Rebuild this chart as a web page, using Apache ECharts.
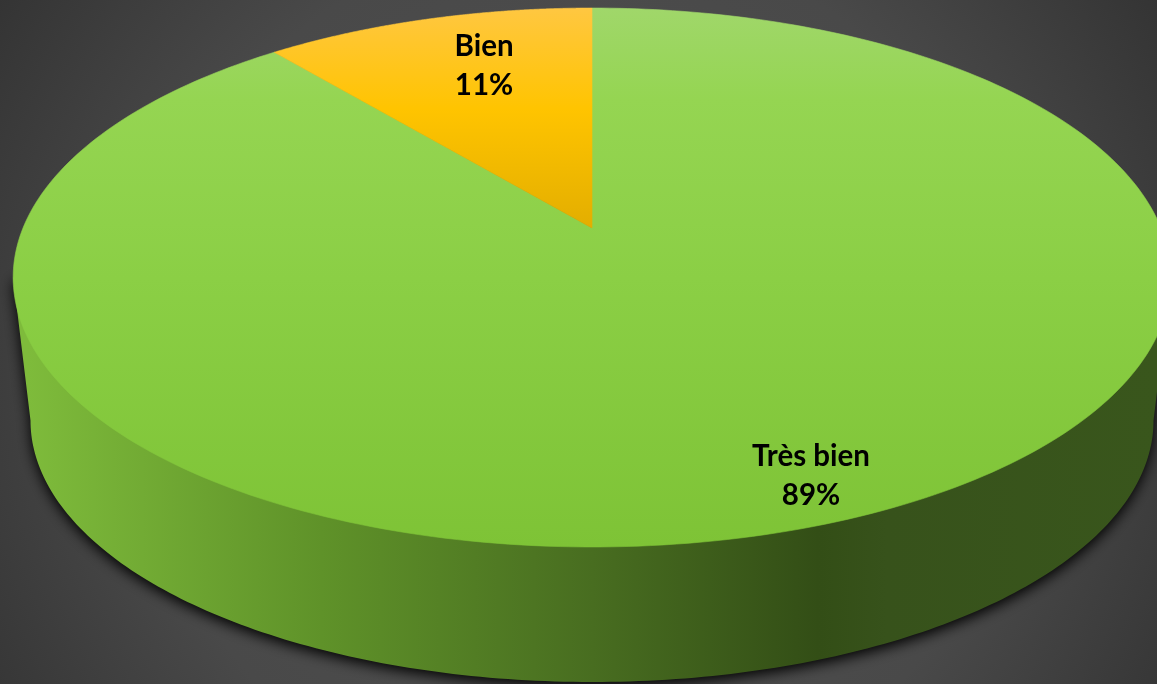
<!DOCTYPE html>
<html>
<head>
<meta charset="utf-8">
<style>html,body{margin:0;padding:0;background:#3d3d3d}#c{width:1157px;height:684px}</style>
<script src="https://cdn.jsdelivr.net/npm/echarts@6/dist/echarts.min.js"></script>
</head>
<body>
<div id="c"></div>
<script>
var categories = ['Très bien', 'Bien'];
var percentValues = [89, 11];

var sliceColors = [
  [[0, '#a0d76a'], [0.17, '#95d552'], [0.5, '#8bcf45'], [1, '#7ec336']],
  [[0, '#ffc741'], [0.46, '#ffc400'], [1, '#e3ae00']]
];
var sideColors = [[0, '#7ebb3b'], [0.26, '#5f9229'], [0.5, '#486d20'], [0.7, '#334e16'], [0.76, '#37521b'], [1, '#39561c']];
var labelAnchors = [[811, 476], [484, 66]];

var chart = echarts.init(document.getElementById('c'), null, {renderer: 'canvas'});
var total = percentValues.reduce(function (a, b) { return a + b; }, 0);
var C = 0.1837, A = -218.5, K = 569, CX = 592, APEX = 228, LOWER = 0.97, LOWER_APEX = 372.6;

function proj(theta, r, lower) {
  var u = r * Math.sin(theta), v = r * Math.cos(theta), w = 1 + C * v;
  var dx = K * u / w, dy = (APEX + A * v) / w - APEX;
  if (lower) { return [CX + LOWER * dx, LOWER_APEX + LOWER * dy]; }
  return [CX + dx, APEX + dy];
}
function sliceAngles(i) {
  var before = 0;
  for (var k = 0; k < i; k++) { before += percentValues[k]; }
  return [before / total * 2 * Math.PI, (before + percentValues[i]) / total * 2 * Math.PI];
}
var frontA = Math.acos(-C), frontB = 2 * Math.PI - Math.acos(-C);

function renderSide(params, api) {
  var ang = sliceAngles(params.dataIndex);
  var a = Math.max(ang[0], frontA), b = Math.min(ang[1], frontB);
  if (a >= b) { return {type: 'group', children: []}; }
  var up = [], low = [], n = 200;
  for (var i = 0; i <= n; i++) {
    var t = a + (b - a) * i / n;
    up.push(proj(t, 0.96, false));
    low.unshift(proj(t, 1, true));
  }
  // side wall runs under the top face so the shadow never bleeds through its edge
  up.unshift(proj(a, 1, false));
  up.push(proj(b, 1, false));
  return {
    type: 'polygon',
    shape: {points: up.concat(low)},
    style: {
      fill: {type: 'linear', x: 28, y: 0, x2: 1157, y2: 0, global: true,
        colorStops: sideColors.map(function (s) { return {offset: s[0], color: s[1]}; })},
      shadowBlur: 14, shadowColor: '#000', shadowOffsetX: 0, shadowOffsetY: 4
    }
  };
}
function renderTop(params, api) {
  var i = params.dataIndex, ang = sliceAngles(i), pts = [proj(0, 0, false)], n = 300;
  for (var k = 0; k <= n; k++) {
    pts.push(proj(ang[0] + (ang[1] - ang[0]) * k / n, 1, false));
  }
  var fill = {type: 'linear', x: 0, y: 8, x2: 0, y2: i === 0 ? 547 : 228, global: true,
    colorStops: sliceColors[i].map(function (s) { return {offset: s[0], color: s[1]}; })};
  return {
    type: 'group',
    children: [{
      type: 'polygon',
      shape: {points: pts},
      style: {fill: fill, stroke: fill, lineWidth: 0.6}
    }, {
      type: 'text',
      z2: 10,
      style: {
        text: categories[i] + '\n' + api.value(1) + '%',
        x: labelAnchors[i][0], y: labelAnchors[i][1],
        align: 'center', verticalAlign: 'middle',
        fontFamily: 'Lato', fontWeight: 'bold', fontSize: 29.5, lineHeight: 39,
        fill: '#000'
      }
    }]
  };
}
var seriesData = categories.map(function (c, i) { return [i, percentValues[i]]; });
chart.setOption({
  animation: false,
  backgroundColor: {type: 'radial', x: 0.5, y: 0.55, r: 1.08,
    colorStops: [{offset: 0, color: '#525252'}, {offset: 0.6, color: '#494949'}, {offset: 1, color: '#303030'}]},
  series: [
    {type: 'custom', coordinateSystem: 'none', renderItem: renderSide, data: seriesData, z: 1, silent: true},
    {type: 'custom', coordinateSystem: 'none', renderItem: renderTop, data: seriesData, z: 2, silent: true}
  ]
});
</script>
</body>
</html>
